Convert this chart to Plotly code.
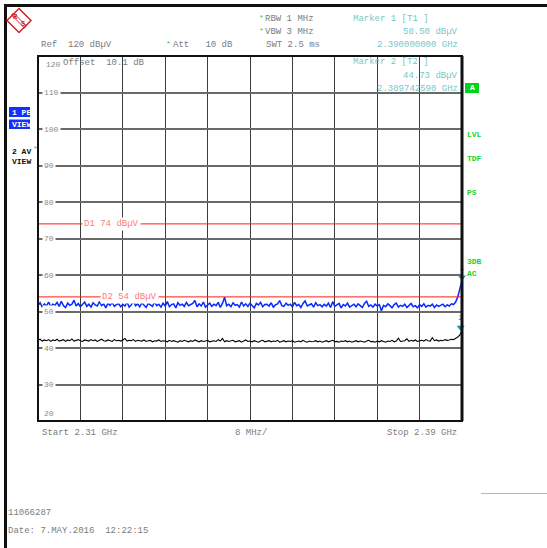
import numpy as np
import plotly.graph_objects as go

# ---------------- data ----------------
f_start_ghz = 2.31
f_stop_ghz = 2.39
n_points = 201
freq_ghz = np.linspace(f_start_ghz, f_stop_ghz, n_points)  # instrument sweep grid

peak_dbuv = [
    51.6, 52.4, 51.2, 52.1, 51.5, 52.6, 51.3, 52.0, 51.7, 52.5,
    51.4, 52.8, 51.6, 51.1, 52.3, 51.7, 52.0, 53.1, 51.5, 52.2,
    51.3, 51.9, 52.6, 51.4, 52.0, 51.2, 52.4, 51.8, 51.5, 52.7,
    51.6, 52.1, 51.0, 52.3, 51.7, 52.5, 51.4, 51.9, 52.2, 51.3,
    52.0, 51.5, 52.6, 51.2, 51.8, 53.0, 51.6, 52.1, 51.3, 52.4,
    51.7, 51.1, 52.2, 51.9, 51.4, 52.6, 51.6, 52.0, 51.2, 52.3,
    51.5, 52.7, 51.3, 51.9, 52.1, 51.0, 52.4, 51.7, 52.0, 51.4,
    52.5, 51.6, 51.9, 52.2, 53.0, 51.3, 52.1, 51.5, 52.6, 51.2,
    51.8, 52.3, 51.4, 52.0, 51.6, 52.5, 51.1, 52.2, 53.9, 51.6,
    52.0, 51.3, 52.4, 51.7, 51.9, 51.2, 52.6, 51.5, 52.1, 51.4,
    52.3, 51.6, 51.0, 52.2, 51.8, 52.5, 51.3, 51.9, 52.0, 51.5,
    52.4, 51.2, 51.8, 52.1, 53.0, 51.6, 51.4, 52.3, 51.7, 52.0,
    51.3, 52.5, 51.6, 51.9, 51.1, 52.2, 52.9, 51.5, 51.8, 52.1,
    51.2, 52.4, 51.6, 51.9, 51.3, 52.0, 51.5, 52.3, 51.1, 52.7,
    51.4, 51.8, 52.2, 51.0, 51.9, 51.5, 52.3, 51.2, 51.7, 52.0,
    51.3, 52.1, 51.6, 51.1, 52.2, 52.8, 51.4, 51.8, 51.2, 52.0,
    51.5, 51.9, 50.2, 51.7, 51.3, 52.1, 51.6, 51.0, 51.9, 52.3,
    51.2, 51.7, 51.4, 52.0, 51.1, 51.8, 52.2, 51.3, 51.6, 51.0,
    51.9, 51.4, 52.1, 51.2, 51.7, 51.5, 52.0, 51.1, 51.8, 51.4,
    51.6, 52.0, 51.3, 51.8, 51.5, 52.1, 51.9, 52.6, 54.0, 56.3,
    58.5,
]

avg_dbuv = [
    42.1, 42.4, 41.9, 42.2, 42.0, 42.3, 41.8, 42.2, 42.0, 42.4,
    41.9, 42.1, 42.3, 41.8, 42.2, 42.0, 42.5, 41.9, 42.1, 42.3,
    42.0, 41.8, 42.2, 42.1, 41.9, 42.3, 42.0, 42.2, 41.8, 42.1,
    42.4, 42.0, 41.9, 42.2, 42.1, 41.8, 42.3, 42.0, 42.1, 41.9,
    42.2, 42.6, 41.9, 42.1, 42.0, 42.3, 41.8, 42.1, 42.0, 41.9,
    42.2, 41.8, 42.0, 42.1, 41.7, 42.0, 41.9, 42.2, 41.8, 42.0,
    41.9, 41.7, 42.1, 41.8, 42.0, 41.9, 41.6, 42.0, 41.8, 42.1,
    41.9, 41.7, 42.0, 41.8, 42.2, 41.9, 41.7, 42.0, 41.8, 41.9,
    42.1, 41.7, 41.9, 42.0, 41.8, 42.3, 41.9, 42.6, 41.7, 42.0,
    41.8, 41.9, 42.1, 41.7, 41.9, 42.0, 41.6, 41.9, 42.2, 41.8,
    41.9, 41.7, 42.0, 41.8, 41.6, 41.9, 42.1, 41.7, 41.8, 42.0,
    41.7, 41.9, 41.8, 42.1, 41.6, 41.8, 42.0, 41.7, 41.9, 41.8,
    42.0, 41.6, 41.8, 41.9, 41.7, 42.1, 41.8, 41.6, 41.9, 41.7,
    41.8, 42.0, 41.7, 41.9, 41.6, 41.8, 42.0, 41.7, 41.9, 42.1,
    41.7, 41.8, 41.6, 41.9, 41.8, 42.0, 41.7, 41.9, 41.6, 41.8,
    42.0, 41.7, 41.9, 41.8, 41.6, 41.9, 42.1, 41.7, 41.8, 41.6,
    41.9, 41.7, 42.0, 41.8, 41.6, 41.9, 41.8, 42.1, 41.7, 41.9,
    42.7, 41.8, 41.9, 42.0, 42.5, 41.8, 42.1, 41.9, 42.2, 41.8,
    42.0, 42.1, 41.9, 42.3, 42.0, 41.9, 42.8, 42.0, 42.2, 41.9,
    42.1, 42.0, 42.3, 42.1, 42.2, 42.4, 42.3, 42.6, 43.0, 43.6,
    44.9,
]

marker_freq_ghz = [2.390000000, 2.389742590]
marker_level_dbuv = [58.50, 44.73]
marker_names = ["1", "2"]

display_lines_dbuv = [74, 54]
display_line_names = ["D1 74 dBµV", "D2 54 dBµV"]

y_min, y_max, y_step = 20, 120, 10
y_tick_values = list(range(20, 121, 10))

# ---------------- layout helpers ----------------
W, H = 547, 548
L, R, T, B = 38, 462, 56, 421


def px(x):
    return (x - L) / (R - L)


def py(y):
    return (B - y) / (B - T)


def nb(s):
    return s.replace(" ", "\u00a0")


MONO = "Liberation Mono"
GRAY = "#7c7c7c"
TEAL = "#79c6c6"
GREEN = "#1fd21f"

fig = go.Figure()

fig.add_trace(go.Scatter(x=freq_ghz, y=avg_dbuv, mode="lines",
                         line=dict(color="#000000", width=1.1), hoverinfo="skip"))
fig.add_trace(go.Scatter(x=freq_ghz, y=peak_dbuv, mode="lines",
                         line=dict(color="#0a28ff", width=1.5), hoverinfo="skip"))

# markers (tip of the triangle on the level)
dy_tip = 0.9
fig.add_trace(go.Scatter(x=marker_freq_ghz, y=[v + dy_tip for v in marker_level_dbuv],
                         mode="markers+text", text=marker_names, textposition="top center",
                         textfont=dict(family=MONO, size=8, color="#1a9a9a"),
                         marker=dict(symbol="triangle-down", size=7, color="#1a9a9a"),
                         cliponaxis=False, hoverinfo="skip"))

shapes = []
annotations = []

# display lines
for v in display_lines_dbuv:
    shapes.append(dict(type="line", xref="x", yref="y", x0=f_start_ghz, x1=f_stop_ghz,
                       y0=v, y1=v, line=dict(color="#ff1a1a", width=1), layer="above"))
label_x_px = [82, 100]
for v, name, xp in zip(display_lines_dbuv, display_line_names, label_x_px):
    annotations.append(dict(x=px(xp), y=v, xref="paper", yref="y", text=nb(name),
                            showarrow=False, xanchor="left", yanchor="middle",
                            bgcolor="white", borderpad=1,
                            font=dict(family=MONO, size=9, color="#ff7a7a")))

# y tick labels inside the plot
for v in y_tick_values:
    if v == 120:
        yy, xx, bg = 117.6, 44, None
    elif v == 20:
        yy, xx, bg = 22.0, 42, None
    else:
        yy, xx, bg = v, 42, "white"
    a = dict(x=px(xx), y=yy, xref="paper", yref="y", text=str(v), showarrow=False,
             xanchor="left", yanchor="middle", borderpad=1,
             font=dict(family=MONO, size=8, color="#8a8a8a"))
    if bg:
        a["bgcolor"] = bg
    annotations.append(a)


def txt(x, y, s, color=GRAY, size=9, anchor="left", bold=False):
    t = nb(s)
    if bold:
        t = "<b>" + t + "</b>"
    annotations.append(dict(x=px(x), y=py(y), xref="paper", yref="paper", text=t,
                            showarrow=False, xanchor=anchor, yanchor="middle",
                            font=dict(family=MONO, size=size, color=color)))


# header
txt(39, 45, "Ref  120 dBµV")
txt(164, 43, "*", color=GREEN, size=8)
txt(171, 45, "Att   10 dB")
txt(257, 17, "*", color=GREEN, size=8)
txt(263, 18.5, "RBW 1 MHz")
txt(257, 30, "*", color=GREEN, size=8)
txt(263, 32, "VBW 3 MHz")
txt(264, 45, "SWT 2.5 ms")
txt(351, 19, "Marker 1 [T1 ]", color=TEAL)
txt(460, 32, "58.50 dBµV", color=TEAL, anchor="right")
txt(460, 45, "2.390000000 GHz", color=TEAL, anchor="right")
txt(351, 62.5, "Marker 2 [T2 ]", color=TEAL)
txt(460, 76, "44.73 dBµV", color=TEAL, anchor="right")
txt(460, 89, "2.389742590 GHz", color=TEAL, anchor="right")
txt(61, 63.5, "Offset  10.1 dB")

# left side labels
shapes.append(dict(type="rect", xref="paper", yref="paper", x0=px(9), x1=px(30),
                   y0=py(107), y1=py(117), fillcolor="#1430ff", line=dict(width=0)))
shapes.append(dict(type="rect", xref="paper", yref="paper", x0=px(9), x1=px(30),
                   y0=py(119.5), y1=py(129), fillcolor="#1430ff", line=dict(width=0)))
txt(10, 112, "1 PE", color="white", size=8, bold=True)
txt(10, 124.5, "VIEW", color="white", size=8, bold=True)
txt(10, 151, "2 AV", color="#111111", size=8, bold=True)
txt(31, 148.5, "*", color=GREEN, size=8)
txt(10, 161.5, "VIEW", color="#111111", size=8, bold=True)

# right side labels
shapes.append(dict(type="rect", xref="paper", yref="paper", x0=px(465), x1=px(479),
                   y0=py(83), y1=py(93), fillcolor="#00d41c", line=dict(width=0)))
txt(472, 88, "A", color="white", size=8, bold=True, anchor="center")
for s, y in [("LVL", 134.5), ("TDF", 158.5), ("PS", 192.5), ("3DB", 261.5), ("AC", 273.5)]:
    txt(465, y, s, color=GREEN, size=8, bold=True)

# bottom labels
txt(40, 433, "Start 2.31 GHz")
txt(251, 433, "8 MHz/", anchor="center")
txt(459, 433, "Stop 2.39 GHz", anchor="right")
txt(6, 513, "11066287", size=9)
txt(6, 531, "Date: 7.MAY.2016  12:22:15", size=9)

# plot frame
shapes.append(dict(type="rect", xref="paper", yref="paper", x0=0, x1=1, y0=0, y1=1,
                   line=dict(color="#111111", width=2), layer="above"))
shapes.append(dict(type="line", xref="paper", yref="paper", x0=px(462), x1=px(462),
                   y0=0, y1=1, line=dict(color="#111111", width=3), layer="above"))

# outer black frame
shapes.append(dict(type="rect", xref="paper", yref="paper", x0=px(4), x1=px(547),
                   y0=py(4), y1=py(7), fillcolor="#111111", line=dict(width=0)))
shapes.append(dict(type="rect", xref="paper", yref="paper", x0=px(4), x1=px(7),
                   y0=py(4), y1=py(548), fillcolor="#111111", line=dict(width=0)))
shapes.append(dict(type="line", xref="paper", yref="paper", x0=px(481), x1=px(547),
                   y0=py(493.5), y1=py(493.5), line=dict(color="#a9bacd", width=1)))


def path(points, close=True):
    s = "M " + " L ".join(f"{px(x):.5f},{py(y):.5f}" for x, y in points)
    return s + (" Z" if close else "")


# logo
LOGO = "#d42020"
shapes.append(dict(type="path", xref="paper", yref="paper",
                   path=path([(19, 8.5), (31, 20.5), (19, 32.5), (7, 20.5)]),
                   line=dict(color=LOGO, width=1.5)))
shapes.append(dict(type="path", xref="paper", yref="paper",
                   path=path([(11.5, 15), (13.5, 13), (26.5, 26), (24.5, 28)]),
                   line=dict(color=LOGO, width=1), fillcolor="rgba(0,0,0,0)"))
txt(15.5, 17.5, "R", color=LOGO, size=7, bold=True, anchor="center")
txt(22.5, 24, "S", color=LOGO, size=7, bold=True, anchor="center")

fig.update_layout(
    width=W, height=H,
    margin=dict(l=L, r=W - R, t=T, b=H - B, pad=0),
    paper_bgcolor="white", plot_bgcolor="white",
    showlegend=False,
    xaxis=dict(range=[f_start_ghz, f_stop_ghz], dtick=(f_stop_ghz - f_start_ghz) / 10,
               tick0=f_start_ghz, showticklabels=False, ticks="", showgrid=True,
               gridcolor="#3c3c3c", gridwidth=1, zeroline=False, showline=False),
    yaxis=dict(range=[y_min, y_max], dtick=y_step, tick0=y_min, showticklabels=False,
               ticks="", showgrid=True, gridcolor="#6a6a6a", gridwidth=1.6,
               zeroline=False, showline=False),
    shapes=shapes,
    annotations=annotations,
)

fig.write_html("out.html",
               config={"displayModeBar": False},
               post_script="document.body.style.margin='0';document.body.style.overflow='hidden';")
